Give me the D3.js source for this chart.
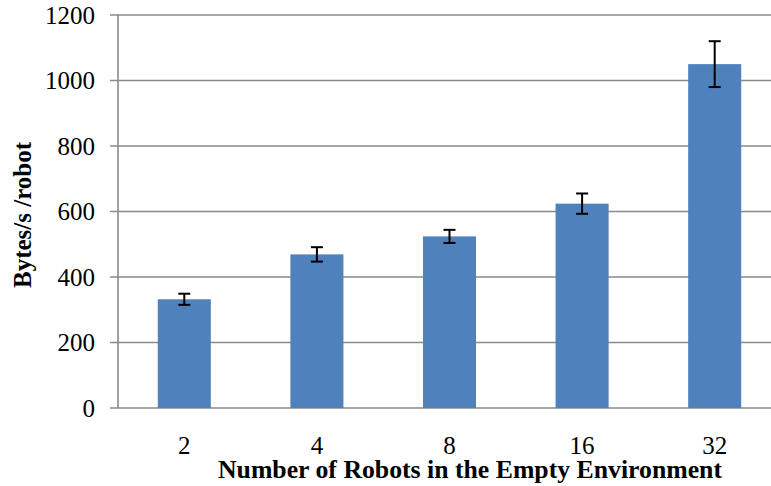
<!DOCTYPE html>
<html>
<head>
<meta charset="utf-8">
<script src="https://cdn.jsdelivr.net/npm/d3@7"></script>
<style>
  html, body { margin: 0; padding: 0; background: #fff; }
  svg { display: block; }
</style>
</head>
<body>
<svg id="chart" width="771" height="486"></svg>
<script>
const categories = ["2", "4", "8", "16", "32"];
const values = [332, 469, 524, 624, 1050];
const errors = [17, 22, 20, 31, 70];
const yTicks = [0, 200, 400, 600, 800, 1000, 1200];
const xTitle = "Number of Robots in the Empty Environment";
const yTitle = "Bytes/s /robot";

(function () {
const svg = d3.select("#chart");
const mLeft = 118, mRight = 781, mTop = 15, mBottom = 408;

const x = d3.scaleBand().domain(categories).range([mLeft, mRight])
  .paddingInner(0.6).paddingOuter(0.3);
const y = d3.scaleLinear().domain([0, 1200]).range([mBottom, mTop]);

const font = "'Liberation Serif', 'Times New Roman', serif";

// gridlines (with short ticks to the left of axis)
svg.append("g").selectAll("line").data(yTicks).join("line")
  .attr("x1", mLeft - 8).attr("x2", 771)
  .attr("y1", d => y(d)).attr("y2", d => y(d))
  .attr("stroke", "#8a8a8a").attr("stroke-width", 1.6);

// y axis line
svg.append("line")
  .attr("x1", mLeft).attr("x2", mLeft)
  .attr("y1", y(1200)).attr("y2", y(0))
  .attr("stroke", "#8a8a8a").attr("stroke-width", 1.6);

// y tick labels
svg.append("g").selectAll("text").data(yTicks).join("text")
  .attr("x", 95).attr("y", d => y(d)).attr("dy", "0.34em")
  .attr("text-anchor", "end")
  .style("font-family", font).style("font-size", "25px").attr("fill", "#000")
  .text(d => d);

// bars
svg.append("g").selectAll("rect").data(values).join("rect")
  .attr("x", (d, i) => x(categories[i]))
  .attr("width", x.bandwidth())
  .attr("y", d => y(d))
  .attr("height", d => y(0) - y(d))
  .attr("fill", "#4F81BD");

// error bars
const eg = svg.append("g").attr("stroke", "#000").attr("stroke-width", 2);
values.forEach((v, i) => {
  const cx = x(categories[i]) + x.bandwidth() / 2;
  const hi = y(v + errors[i]), lo = y(v - errors[i]);
  eg.append("line").attr("x1", cx).attr("x2", cx).attr("y1", hi).attr("y2", lo);
  eg.append("line").attr("x1", cx - 6).attr("x2", cx + 6).attr("y1", hi).attr("y2", hi);
  eg.append("line").attr("x1", cx - 6).attr("x2", cx + 6).attr("y1", lo).attr("y2", lo);
});

// x tick labels
svg.append("g").selectAll("text").data(categories).join("text")
  .attr("x", d => x(d) + x.bandwidth() / 2).attr("y", 454)
  .attr("text-anchor", "middle")
  .style("font-family", font).style("font-size", "25px").attr("fill", "#000")
  .text(d => d);

// x title
svg.append("text")
  .attr("x", 470).attr("y", 478)
  .attr("text-anchor", "middle")
  .attr("textLength", 504).attr("lengthAdjust", "spacingAndGlyphs")
  .style("font-family", font).style("font-size", "25px").style("font-weight", "bold")
  .attr("fill", "#000")
  .text(xTitle);

// y title
svg.append("text")
  .attr("transform", "translate(31,215) rotate(-90)")
  .attr("text-anchor", "middle")
  .style("font-family", font).style("font-size", "25px").style("font-weight", "bold")
  .attr("fill", "#000")
  .text(yTitle);
})();
</script>
</body>
</html>
